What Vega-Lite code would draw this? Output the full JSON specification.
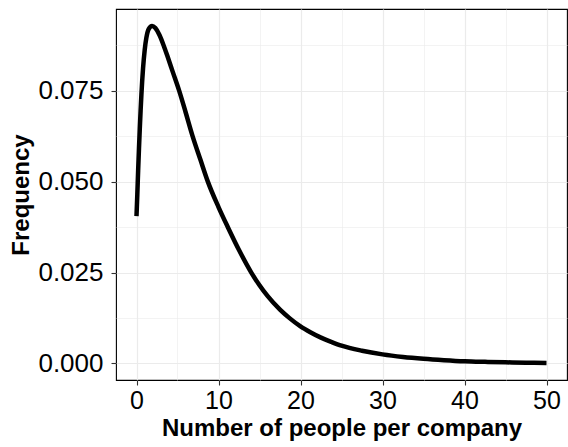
{
  "$schema": "https://vega.github.io/schema/vega-lite/v6.json",
  "autosize": "none",
  "width": 451,
  "height": 371,
  "padding": {"left": 116, "top": 9, "right": 1, "bottom": 67},
  "background": "white",
  "config": {
    "view": {"stroke": "#000000", "strokeWidth": 1.1},
    "font": "Liberation Sans"
  },
  "data": {
    "values": [
      {"people": 0, "freq": 0.0405},
      {"people": 0.1, "freq": 0.0465},
      {"people": 0.2, "freq": 0.053},
      {"people": 0.3, "freq": 0.059},
      {"people": 0.4, "freq": 0.0645},
      {"people": 0.5, "freq": 0.0695},
      {"people": 0.6, "freq": 0.074},
      {"people": 0.8, "freq": 0.0812},
      {"people": 1.0, "freq": 0.0862},
      {"people": 1.2, "freq": 0.0895},
      {"people": 1.5, "freq": 0.092},
      {"people": 1.9, "freq": 0.0928},
      {"people": 2.3, "freq": 0.0922},
      {"people": 2.8, "freq": 0.0903},
      {"people": 3.3, "freq": 0.0875},
      {"people": 3.8, "freq": 0.0843},
      {"people": 4.4, "freq": 0.0803},
      {"people": 5.2, "freq": 0.075},
      {"people": 6.0, "freq": 0.069},
      {"people": 6.8, "freq": 0.0628},
      {"people": 7.8, "freq": 0.056},
      {"people": 8.7, "freq": 0.05},
      {"people": 10, "freq": 0.043},
      {"people": 11.2, "freq": 0.0372},
      {"people": 12.5, "freq": 0.0312},
      {"people": 14, "freq": 0.025},
      {"people": 15, "freq": 0.0215},
      {"people": 16, "freq": 0.0185},
      {"people": 17.5, "freq": 0.0148},
      {"people": 18.7, "freq": 0.0124},
      {"people": 20, "freq": 0.0102},
      {"people": 21.2, "freq": 0.0086},
      {"people": 22.5, "freq": 0.0071},
      {"people": 23.8, "freq": 0.0059},
      {"people": 25, "freq": 0.0049},
      {"people": 27.5, "freq": 0.0035},
      {"people": 30, "freq": 0.0025},
      {"people": 32.5, "freq": 0.0018},
      {"people": 35, "freq": 0.0013},
      {"people": 37.5, "freq": 0.00092},
      {"people": 40, "freq": 0.00062},
      {"people": 42.5, "freq": 0.00045},
      {"people": 45, "freq": 0.00032},
      {"people": 47.5, "freq": 0.00022},
      {"people": 50, "freq": 0.00015}
    ]
  },
  "mark": {"type": "line", "color": "#000000", "strokeWidth": 4.5, "interpolate": "monotone", "strokeCap": "butt"},
  "encoding": {
    "x": {
      "field": "people",
      "type": "quantitative",
      "scale": {"domain": [-2.5, 52.5], "nice": false, "zero": false},
      "axis": {
        "title": "Number of people per company",
        "values": [0, 5, 10, 15, 20, 25, 30, 35, 40, 45, 50],
        "labelExpr": "datum.value % 10 === 0 ? datum.label : ''",
        "grid": true,
        "gridColor": "#EBEBEB",
        "gridWidth": {"condition": {"test": "datum.value % 10 !== 0", "value": 0.6}, "value": 1.2},
        "tickOpacity": {"condition": {"test": "datum.value % 10 !== 0", "value": 0}, "value": 1},
        "tickColor": "#333333",
        "tickWidth": 1.1,
        "tickSize": 5,
        "domain": false,
        "labelFont": "Liberation Sans",
        "labelFontSize": 25,
        "labelColor": "#000000",
        "labelPadding": 3,
        "labelFlush": false,
        "labelOverlap": false,
        "titleFont": "Liberation Sans",
        "titleFontSize": 24,
        "titleFontWeight": "bold",
        "titleColor": "#000000",
        "titlePadding": 3
      }
    },
    "y": {
      "field": "freq",
      "type": "quantitative",
      "scale": {"domain": [-0.00454, 0.09745], "nice": false, "zero": false},
      "axis": {
        "title": "Frequency",
        "values": [0, 0.0125, 0.025, 0.0375, 0.05, 0.0625, 0.075, 0.0875],
        "format": ".3f",
        "labelExpr": "abs(datum.value*40 - round(datum.value*40)) > 0.1 ? '' : datum.label",
        "grid": true,
        "gridColor": "#EBEBEB",
        "gridWidth": {"condition": {"test": "abs(datum.value*40 - round(datum.value*40)) > 0.1", "value": 0.6}, "value": 1.2},
        "tickOpacity": {"condition": {"test": "abs(datum.value*40 - round(datum.value*40)) > 0.1", "value": 0}, "value": 1},
        "tickColor": "#333333",
        "tickWidth": 1.1,
        "tickSize": 5,
        "domain": false,
        "labelFont": "Liberation Sans",
        "labelFontSize": 26,
        "labelColor": "#000000",
        "labelPadding": 8,
        "labelFlush": false,
        "labelOverlap": false,
        "titleFont": "Liberation Sans",
        "titleFontSize": 24,
        "titleFontWeight": "bold",
        "titleColor": "#000000",
        "titlePadding": 4
      }
    }
  }
}
